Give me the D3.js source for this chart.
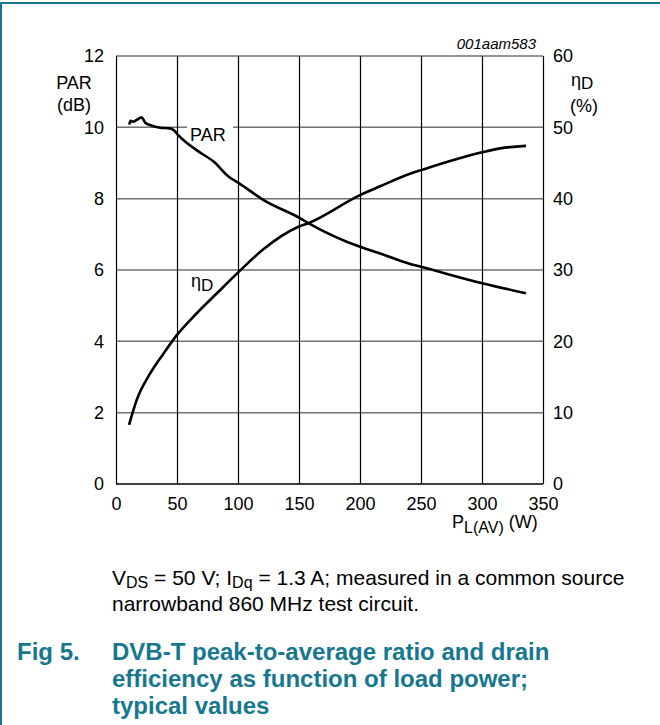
<!DOCTYPE html>
<html>
<head>
<meta charset="utf-8">
<script src="https://cdn.jsdelivr.net/npm/d3@7"></script>
<style>
  html, body { margin: 0; padding: 0; background: #fff; }
  svg text { font-family: "Liberation Sans", Arial, sans-serif; fill: #000; }
</style>
</head>
<body>
<div id="chart"></div>
<script>
(function() {
  var parPower, parValues, etaPower, etaValues, xTicks, yLeftTicks, yRightTicks;

  // PAR curve (dB) vs load power (W)
  parPower = [10.9, 12, 14, 17, 21, 24, 29, 36, 44, 47.5, 51, 66, 80, 93, 101, 121, 151, 158, 200, 216, 241, 250, 300, 336];
  parValues = [10.08, 10.18, 10.16, 10.21, 10.28, 10.13, 10.05, 9.99, 9.97, 9.92, 9.78, 9.36, 9.04, 8.6, 8.43, 7.96, 7.45, 7.31, 6.65, 6.47, 6.17, 6.09, 5.63, 5.35];

  // drain efficiency (%) vs load power (W)
  etaPower = [10.7, 17, 28, 39, 50, 66, 82.5, 101, 120, 150, 158, 200, 216, 241, 250, 300, 315, 336];
  etaValues = [8.3, 11.8, 15.5, 18.3, 20.9, 23.9, 26.7, 29.8, 32.8, 36.1, 36.6, 40.5, 41.7, 43.5, 44, 46.5, 47.05, 47.4];

  xTicks = [0, 50, 100, 150, 200, 250, 300, 350];
  yLeftTicks = [0, 2, 4, 6, 8, 10, 12];
  yRightTicks = [0, 10, 20, 30, 40, 50, 60];

  var W = 660, H = 725;
  var margin = { left: 116, top: 56 };
  var width = 427, height = 428;
  var teal = '#17778f';

  var svg = d3.select('#chart').append('svg').attr('width', W).attr('height', H);

  // page frame
  svg.append('line').attr('x1', 0).attr('y1', 3).attr('x2', W).attr('y2', 3).attr('stroke', teal).attr('stroke-width', 2);
  svg.append('line').attr('x1', 1).attr('y1', 2).attr('x2', 1).attr('y2', H).attr('stroke', teal).attr('stroke-width', 2);

  var x = d3.scaleLinear().domain([0, 350]).range([0, width]);
  var yL = d3.scaleLinear().domain([0, 12]).range([height, 0]);
  var yR = d3.scaleLinear().domain([0, 60]).range([height, 0]);

  var g = svg.append('g').attr('transform', 'translate(' + margin.left + ',' + margin.top + ')');

  // horizontal grid (grey)
  g.append('g').selectAll('line').data(yLeftTicks).enter().append('line')
    .attr('x1', 0).attr('x2', width)
    .attr('y1', function(d) { return yL(d); }).attr('y2', function(d) { return yL(d); })
    .attr('stroke', '#707070').attr('stroke-width', 1.5);

  // vertical grid (black)
  g.append('g').selectAll('line').data(xTicks).enter().append('line')
    .attr('x1', function(d) { return x(d) + 0.5; }).attr('x2', function(d) { return x(d) + 0.5; })
    .attr('y1', 0).attr('y2', height)
    .attr('stroke', '#000').attr('stroke-width', 1.2);
  // bottom axis line black
  g.append('line').attr('x1', 0).attr('x2', width).attr('y1', height).attr('y2', height)
    .attr('stroke', '#222').attr('stroke-width', 1.5);

  // tick labels
  var leftAxis = d3.axisLeft(yL).tickValues(yLeftTicks).tickSize(0).tickPadding(12);
  var rightAxis = d3.axisRight(yR).tickValues(yRightTicks).tickSize(0).tickPadding(10);
  var bottomAxis = d3.axisBottom(x).tickValues(xTicks).tickSize(0).tickPadding(13);

  [g.append('g').call(leftAxis),
   g.append('g').attr('transform', 'translate(' + width + ',0)').call(rightAxis),
   g.append('g').attr('transform', 'translate(0,' + height + ')').call(bottomAxis)].forEach(function(a) {
    a.select('.domain').remove();
    a.selectAll('text').attr('font-size', 18).attr('font-family', '"Liberation Sans", Arial, sans-serif').attr('fill', '#000');
  });

  // curves
  var parLine = d3.line().curve(d3.curveMonotoneX)
    .x(function(d, i) { return x(parPower[i]); })
    .y(function(d) { return yL(d); });
  var etaLine = d3.line().curve(d3.curveMonotoneX)
    .x(function(d, i) { return x(etaPower[i]); })
    .y(function(d) { return yR(d); });

  g.append('path').datum(etaValues).attr('d', etaLine).attr('fill', 'none')
    .attr('stroke', '#000').attr('stroke-width', 2.6).attr('stroke-linejoin', 'round');

  // PAR label with white background breaking the grid line
  g.append('rect').attr('x', 71).attr('y', 66).attr('width', 46).attr('height', 22).attr('fill', '#fff');
  g.append('path').datum(parValues).attr('d', parLine).attr('fill', 'none')
    .attr('stroke', '#000').attr('stroke-width', 2.6).attr('stroke-linejoin', 'round');
  g.append('text').attr('x', 74).attr('y', 85).attr('font-size', 18).text('PAR');

  // eta label
  var etaLbl = g.append('text').attr('x', 75).attr('y', 231).attr('font-size', 18);
  etaLbl.append('tspan').text('η');
  etaLbl.append('tspan').attr('dy', 4).attr('font-size', 17).text('D');

  // axis titles
  svg.append('text').attr('x', 74).attr('y', 89).attr('text-anchor', 'middle').attr('font-size', 18).text('PAR');
  svg.append('text').attr('x', 74).attr('y', 111).attr('text-anchor', 'middle').attr('font-size', 18).text('(dB)');
  var etaT = svg.append('text').attr('x', 571).attr('y', 86).attr('font-size', 18);
  etaT.append('tspan').text('η');
  etaT.append('tspan').attr('dy', 3).attr('font-size', 17).text('D');
  svg.append('text').attr('x', 584).attr('y', 112).attr('text-anchor', 'middle').attr('font-size', 18).text('(%)');

  var xT = svg.append('text').attr('x', 452).attr('y', 528).attr('font-size', 18);
  xT.append('tspan').text('P');
  xT.append('tspan').attr('dy', 5).attr('font-size', 16).text('L(AV)');
  xT.append('tspan').attr('dy', -5).text(' (W)');

  svg.append('text').attr('x', 536).attr('y', 49).attr('text-anchor', 'end')
    .attr('font-size', 15).attr('font-style', 'italic').text('001aam583');

  // caption
  var c1 = svg.append('text').attr('x', 112).attr('y', 585).attr('font-size', 21);
  c1.append('tspan').text('V');
  c1.append('tspan').attr('dy', 3).attr('font-size', 16).text('DS');
  c1.append('tspan').attr('dy', -3).text(' = 50 V; I');
  c1.append('tspan').attr('dy', 3).attr('font-size', 16).text('Dq');
  c1.append('tspan').attr('dy', -3).text(' = 1.3 A; measured in a common source');
  svg.append('text').attr('x', 112).attr('y', 611).attr('font-size', 21).text('narrowband 860 MHz test circuit.');

  var titleLines = ['DVB-T peak-to-average ratio and drain', 'efficiency as function of load power;', 'typical values'];
  svg.append('text').attr('x', 17).attr('y', 660).attr('font-size', 24).attr('font-weight', 'bold')
    .style('fill', teal).text('Fig 5.');
  svg.selectAll('.title').data(titleLines).enter().append('text')
    .attr('x', 112).attr('y', function(d, i) { return 660 + i * 27; })
    .attr('font-size', 24).attr('font-weight', 'bold').style('fill', teal)
    .text(function(d) { return d; });
})();
</script>
</body>
</html>
